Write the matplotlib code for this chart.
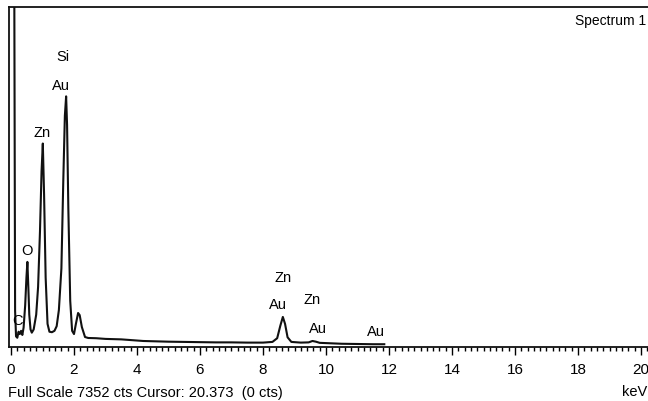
import numpy as np
import matplotlib.pyplot as plt
from matplotlib.ticker import MultipleLocator

plt.rcParams['font.family'] = ['Liberation Sans Narrow', 'Liberation Sans', 'DejaVu Sans']

# Espectro EDS: energía (keV) y cuentas
energia = [0.00, 0.06, 0.10, 0.13, 0.16, 0.20, 0.24, 0.28, 0.32, 0.36, 0.40, 0.45,
           0.49, 0.52, 0.55, 0.58, 0.62, 0.66, 0.72, 0.80, 0.86, 0.92, 0.97, 1.01,
           1.05, 1.10, 1.16, 1.22, 1.30, 1.38, 1.45, 1.52, 1.60, 1.66, 1.71, 1.75,
           1.78, 1.82, 1.88, 1.94, 2.00, 2.06, 2.13, 2.18, 2.25, 2.35, 2.45, 2.70,
           3.00, 3.50, 3.80, 4.20, 5.00, 5.50, 6.00, 6.50, 7.00, 7.50, 8.00, 8.30,
           8.45, 8.55, 8.63, 8.70, 8.78, 8.90, 9.20, 9.45, 9.57, 9.68, 9.80, 10.50,
           11.00, 11.50, 11.85]
cuentas = [9000, 9000, 9000, 780, 230, 200, 330, 280, 350, 260, 420, 900,
           1500, 1840, 1300, 700, 380, 310, 380, 700, 1300, 2500, 3800, 4400,
           3300, 1500, 500, 330, 320, 350, 450, 800, 1700, 3600, 5000, 5420,
           4800, 3000, 1000, 350, 280, 500, 735, 690, 430, 216, 195, 190,
           175, 165, 150, 130, 115, 110, 105, 100, 100, 95, 95, 110,
           190, 460, 650, 500, 210, 110, 95, 100, 130, 115, 90, 70,
           65, 60, 60]

# Etiquetas de los elementos: (texto, keV, cuentas)
etiquetas = [('Si', 1.65, 6290), ('Au', 1.59, 5665), ('Zn', 0.98, 4650),
             ('O', 0.51, 2100), ('C', 0.22, 585),
             ('Zn', 8.63, 1513), ('Au', 8.48, 930), ('Zn', 9.56, 1038),
             ('Au', 9.75, 411), ('Au', 11.59, 346)]

escala_total = 7352
cursor = 20.373

fig = plt.figure(figsize=(6.48, 4.02), dpi=100)
W, H = 648, 402
px_kev = 31.5
x0 = 11  # pixel de 0 keV
xmin, xmax = -0.06, 21.0
ax = fig.add_axes([(x0 + xmin * px_kev) / W, (H - 348) / H,
                   (xmax - xmin) * px_kev / W, 340 / H])

ax.plot(energia, cuentas, color='#111111', lw=1.5, clip_on=True)
ax.set_xlim(xmin, xmax)
ax.set_ylim(0, escala_total)

for s in ['top', 'bottom', 'left']:
    ax.spines[s].set_linewidth(1.3)
    ax.spines[s].set_color('#111111')
ax.spines['right'].set_visible(False)

ax.xaxis.set_major_locator(MultipleLocator(2))
ax.xaxis.set_minor_locator(MultipleLocator(0.2))
ax.tick_params(axis='x', which='major', length=6, width=1, direction='out',
               labelsize=11, pad=5)
ax.tick_params(axis='x', which='minor', length=3, width=1, direction='out')
ax.set_yticks([])

for texto, e, c in etiquetas:
    ax.text(e, c, texto, ha='center', va='center', fontsize=10.5)

fig.text(646 / W, 1 - 21 / H, 'Spectrum 1', ha='right', va='center', fontsize=10)
fig.text(647 / W, 1 - 392 / H, 'keV', ha='right', va='center', fontsize=10.5)
fig.text(8 / W, 1 - 393 / H,
         f'Full Scale {escala_total} cts Cursor: {cursor:.3f}  (0 cts)',
         ha='left', va='center', fontsize=10.5)

fig.savefig('out.png', dpi=100)
